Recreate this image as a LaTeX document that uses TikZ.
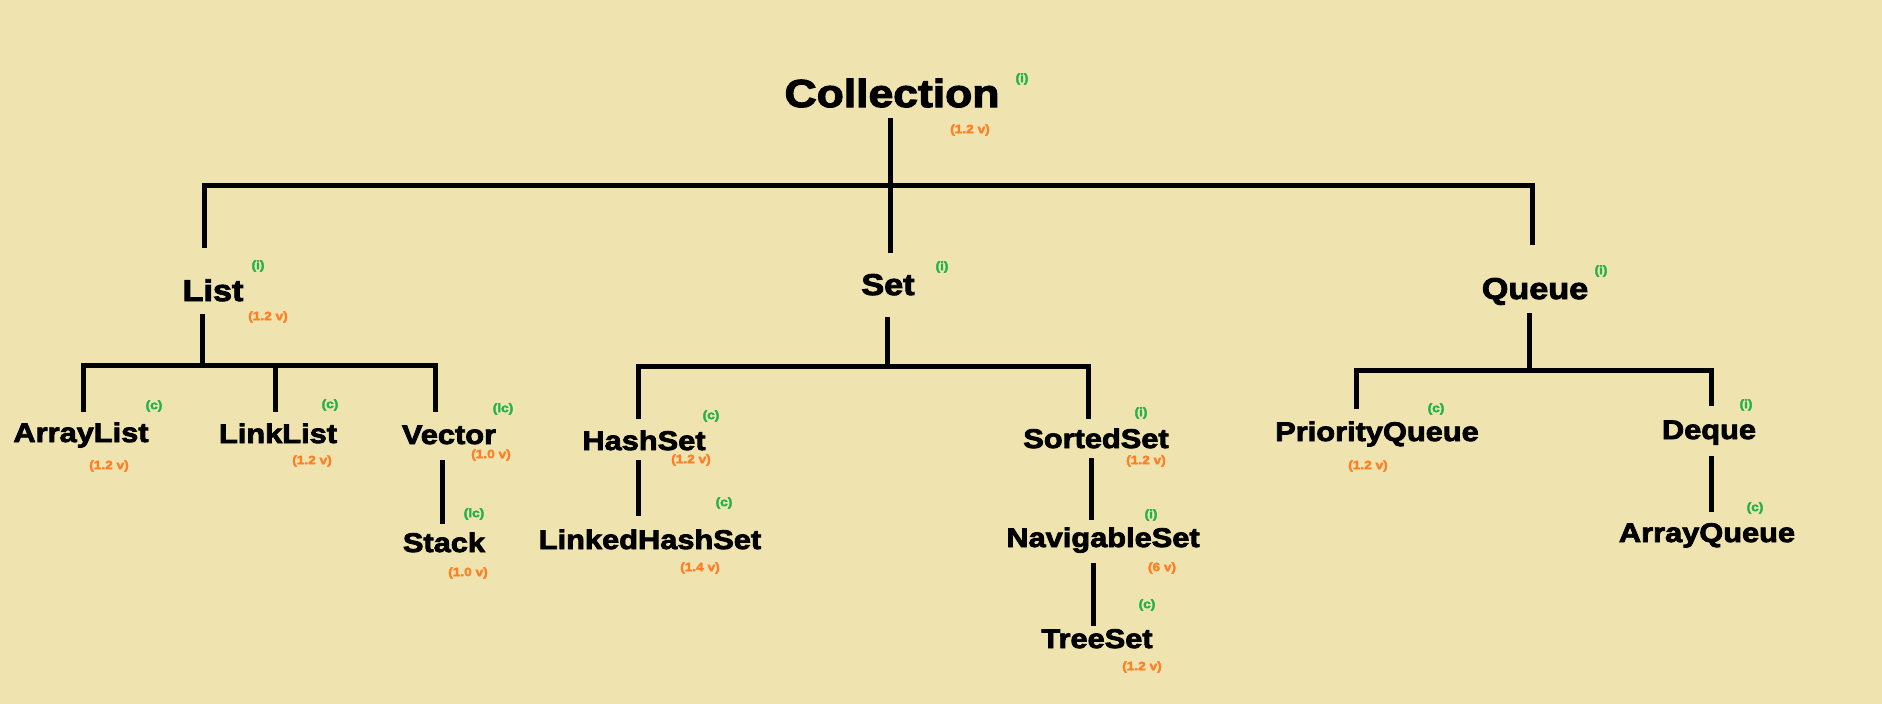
\documentclass[tikz,border=0pt]{standalone}
\usepackage{fontspec}
\setmainfont{Liberation Sans}[FakeStretch=1.14, BoldFeatures={FakeBold=3}]
\usepackage{tikz}
\usetikzlibrary{calc}
\definecolor{bgtan}{HTML}{EFE4B0}
\definecolor{kindgreen}{HTML}{22B14C}
\definecolor{verorange}{HTML}{FF7F27}
\tikzset{
 link/.style={line width=5pt},
 cls/.style={inner sep=0pt, anchor=base, text depth=0pt, text height=19.5pt, font=\bfseries\fontsize{27}{27}\selectfont},
 midbox/.style={cls, text height=21.5pt, font=\bfseries\fontsize{30}{30}\selectfont},
 rootbox/.style={cls, text height=28pt, font=\bfseries\fontsize{39}{39}\selectfont},
 kind/.style={inner sep=0pt, text=kindgreen, font=\bfseries\fontsize{12}{12}\selectfont},
 ver/.style={inner sep=0pt, text=verorange, font=\bfseries\fontsize{12}{12}\selectfont}
}
\begin{document}
\begin{tikzpicture}[x=1pt,y=-1pt]
\useasboundingbox (0,0) rectangle (1882,704);
\fill[bgtan] (0,0) rectangle (1882,704);

\node[rootbox] (coll) at (892,107) {Collection};
\foreach \x/\y/\n/\t in {213/301/list/List, 888/295/set/Set, 1535/299/queue/Queue}
 \node[midbox] (\n) at (\x,\y) {\t};
\foreach \x/\y/\n/\t in {81/442/alist/ArrayList, 278/443/llist/LinkList, 449/444/vector/Vector, 444/552/stack/Stack, 644/450/hset/HashSet, 650/549/lhset/LinkedHashSet, 1096/448/sset/SortedSet, 1103/547/nset/NavigableSet, 1097/648/tset/TreeSet, 1377/441/pq/PriorityQueue, 1709/439/deque/Deque, 1707/542/aq/ArrayQueue}
 \node[cls] (\n) at (\x,\y) {\t};

% (i) interface, (c) class, (lc) legacy class
\foreach \x/\y/\t [count=\k] in {1022/79/i, 258/266/i, 942/267/i, 1601/271/i, 154/406/c, 330/405/c, 503/409/lc, 474/514/lc, 711/416/c, 724/503/c, 1141/413/i, 1151/515/i, 1147/605/c, 1436/409/c, 1746/405/i, 1755/508/c}
 \node[kind] (k\k) at (\x,\y) {(\t)};
\foreach \x/\y/\t [count=\k] in {970/130/1.2, 268/317/1.2, 109/466/1.2, 312/461/1.2, 491/455/1.0, 468/573/1.0, 691/460/1.2, 700/568/1.4, 1146/461/1.2, 1162/568/6, 1142/667/1.2, 1368/466/1.2}
 \node[ver] (v\k) at (\x,\y) {(\t\ v)};

\coordinate (jTop) at (890,185);
\coordinate (jTL) at (204,185);
\coordinate (jTR) at (1532,185);
\draw[link, shorten <=11pt] (coll.south -| jTop) -- (jTop);
\draw[link, shorten <=31pt, shorten >=32pt] (list.north -| jTL) -- (jTL) -- (jTR) -- (queue.north -| jTR);
\draw[link, shorten >=20pt] (jTop) -- (jTop |- set.north);

\coordinate (jL) at (202,365);
\coordinate (jLL) at (83,365);
\coordinate (jLM) at (275,365);
\coordinate (jLR) at (435,365);
\draw[link, shorten <=13pt] (list.south -| jL) -- (jL);
\draw[link, shorten <=10pt, shorten >=12pt] (alist.north -| jLL) -- (jLL) -- (jLR) -- (vector.north -| jLR);
\draw[link, shorten >=11pt] (jLM) -- (jLM |- llist.north);
\draw[link, shorten <=16pt, shorten >=8pt] ([xshift=-7pt]vector.south) -- ([xshift=-2pt]stack.north);

\coordinate (jS) at (887,366);
\coordinate (jSL) at (638,366);
\coordinate (jSR) at (1088,366);
\draw[link, shorten <=22pt] (set.south -| jS) -- (jS);
\draw[link, shorten <=11pt, shorten >=9pt] (hset.north -| jSL) -- (jSL) -- (jSR) -- (sset.north -| jSR);
\draw[link, shorten <=10pt, shorten >=13pt] (hset.south -| jSL) -- (lhset.north -| jSL);
\draw[link, shorten <=10pt, shorten >=7pt] ([xshift=-5pt]sset.south) -- ([xshift=-12pt]nset.north);
\draw[link, shorten <=16pt, shorten >=2pt] ([xshift=-10pt]nset.south) -- ([xshift=-4pt]tset.north);

\coordinate (jQ) at (1529,370);
\coordinate (jQL) at (1356,370);
\coordinate (jQR) at (1711,370);
\draw[link, shorten <=14pt] (queue.south -| jQ) -- (jQ);
\draw[link, shorten <=12pt, shorten >=13pt] (pq.north -| jQL) -- (jQL) -- (jQR) -- (deque.north -| jQR);
\draw[link, shorten <=17pt, shorten >=10pt] (deque.south -| jQR) -- (aq.north -| jQR);
\end{tikzpicture}
\end{document}
